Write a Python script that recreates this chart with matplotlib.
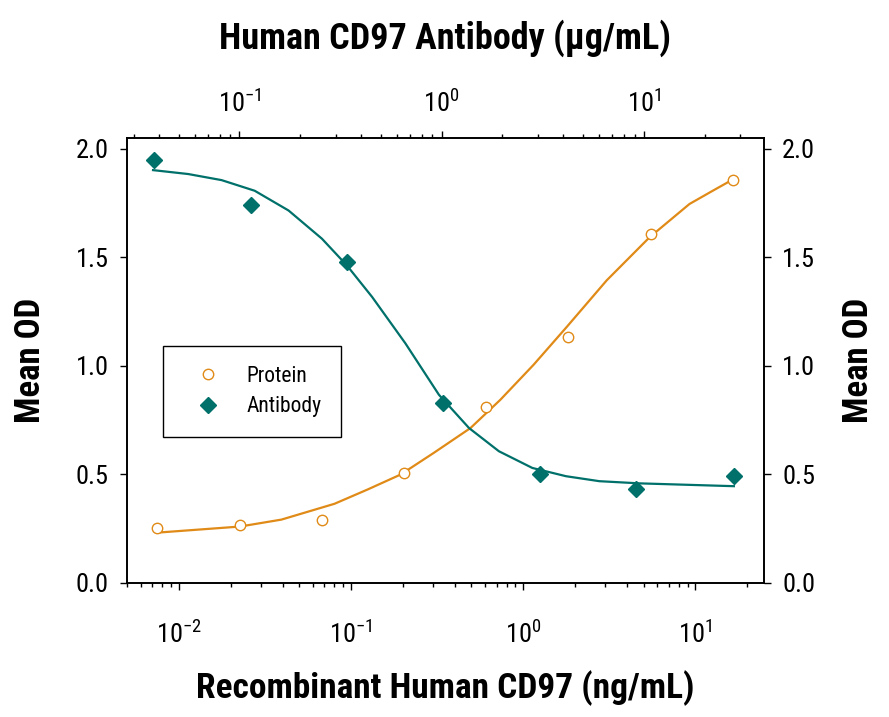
import matplotlib
matplotlib.use('Agg')
import matplotlib.pyplot as plt
from matplotlib import font_manager
from matplotlib.lines import Line2D
from matplotlib.ticker import LogLocator, FuncFormatter, NullFormatter
import numpy as np

# pick a narrow font if there is one
names = set(f.name for f in font_manager.fontManager.ttflist)
FONT = 'DejaVu Sans'
for cand in ['Roboto Condensed', 'Liberation Sans Narrow', 'Open Sans Condensed', 'Liberation Sans']:
    if cand in names:
        FONT = cand
        break
plt.rcParams['font.family'] = [FONT, 'DejaVu Sans']
plt.rcParams['mathtext.fontset'] = 'custom'
plt.rcParams['mathtext.rm'] = FONT
plt.rcParams['mathtext.it'] = FONT
plt.rcParams['mathtext.bf'] = FONT

ORANGE = '#E08A17'
TEAL = '#00706A'

# Recombinant Human CD97 protein (ng/mL) - bottom axis
protein_conc = [0.0075, 0.0226, 0.068, 0.203, 0.61, 1.83, 5.5, 16.6]
protein_od = [0.255, 0.267, 0.290, 0.508, 0.813, 1.132, 1.607, 1.857]
# fitted curve
protein_fit_conc = [0.0075, 0.0226, 0.0394, 0.0802, 0.125, 0.1945, 0.303, 0.494,
                    0.736, 1.147, 1.79, 3.05, 5.42, 9.23, 12.6, 16.4]
protein_fit_od = [0.232, 0.260, 0.292, 0.365, 0.431, 0.500, 0.600, 0.714,
                  0.844, 1.005, 1.180, 1.394, 1.593, 1.746, 1.807, 1.858]

# Human CD97 antibody (ug/mL) - top axis
antibody_conc = [0.0377, 0.114, 0.340, 1.02, 3.07, 9.2, 27.9]
antibody_od = [1.948, 1.743, 1.478, 0.829, 0.503, 0.431, 0.492]
antibody_fit_conc = [0.0374, 0.0558, 0.0816, 0.119, 0.175, 0.256, 0.340, 0.453,
                     0.662, 0.970, 1.366, 1.92, 2.81, 4.12, 6.03, 9.52, 27.9]
antibody_fit_od = [1.902, 1.884, 1.856, 1.807, 1.716, 1.586, 1.463, 1.318,
                   1.104, 0.867, 0.714, 0.607, 0.530, 0.492, 0.469, 0.459, 0.446]

yticks = [0.0, 0.5, 1.0, 1.5, 2.0]

fig = plt.figure(figsize=(8.89, 7.17), dpi=100)
ax = fig.add_axes([127/889, 1-583/717, (764-127)/889, (583-138)/717])
ax_top = ax.twiny()

def pow_fmt(v, pos):
    return r'$\mathregular{10^{%d}}$' % int(round(np.log10(v)))

for a in (ax, ax_top):
    a.set_xscale('log')
    for s in a.spines.values():
        s.set_linewidth(1.2)

ax.set_xlim(0.005, 25)
ax_top.set_xlim(0.0278, 39.3)
ax.set_ylim(0, 2.05)

for a in (ax, ax_top):
    a.xaxis.set_major_locator(LogLocator(base=10, numticks=10))
    a.xaxis.set_minor_locator(LogLocator(base=10, subs=np.arange(2, 10), numticks=20))
    a.xaxis.set_major_formatter(FuncFormatter(pow_fmt))
    a.xaxis.set_minor_formatter(NullFormatter())

ax.set_yticks(yticks)
ax.set_yticklabels(['%.1f' % v for v in yticks])
ax.tick_params(axis='y', which='both', right=True, labelright=True)

ax.tick_params(which='major', direction='out', length=5, width=1, labelsize=19, pad=8)
ax.tick_params(which='minor', direction='out', length=3, width=1)
ax.tick_params(axis='x', which='major', pad=22)
ax_top.tick_params(which='major', direction='out', length=5, width=1, labelsize=19, pad=10)
ax_top.tick_params(which='minor', direction='out', length=3, width=1)

# protein on bottom axis
ax.plot(protein_fit_conc, protein_fit_od, color=ORANGE, lw=1.6, zorder=2)
ax.plot(protein_conc, protein_od, 'o', ms=7.5, mfc='white', mec=ORANGE, mew=1.0,
        linestyle='none', zorder=3)

# antibody on top axis
ax_top.plot(antibody_fit_conc, antibody_fit_od, color=TEAL, lw=1.6, zorder=2)
ax_top.plot(antibody_conc, antibody_od, 'D', ms=8.5, color=TEAL, linestyle='none', zorder=3)

handles = [Line2D([], [], marker='o', ms=7.5, mfc='white', mec=ORANGE, mew=1.0, linestyle='none'),
           Line2D([], [], marker='D', ms=8.5, color=TEAL, linestyle='none')]
leg = ax_top.legend(handles, ['Protein', 'Antibody'], loc='upper left',
                    bbox_to_anchor=(0.0565, 0.5326), borderaxespad=0, fontsize=15.5,
                    frameon=True, fancybox=False, edgecolor='black', framealpha=1,
                    borderpad=0.92, handlelength=2.35, handletextpad=0.6, labelspacing=0.45)
leg.get_frame().set_linewidth(1.0)

fig.text(445, 717-38, 'Human CD97 Antibody (\u03bcg/mL)', transform=None,
         ha='center', va='center', fontsize=26, fontweight='bold')
fig.text(445, 717-688, 'Recombinant Human CD97 (ng/mL)', transform=None,
         ha='center', va='center', fontsize=25.5, fontweight='bold')
fig.text(30, 717-360, 'Mean OD', transform=None, rotation=90,
         ha='center', va='center', fontsize=25, fontweight='bold')
fig.text(858, 717-360, 'Mean OD', transform=None, rotation=90,
         ha='center', va='center', fontsize=25, fontweight='bold')

fig.savefig('out.png', dpi=100)
